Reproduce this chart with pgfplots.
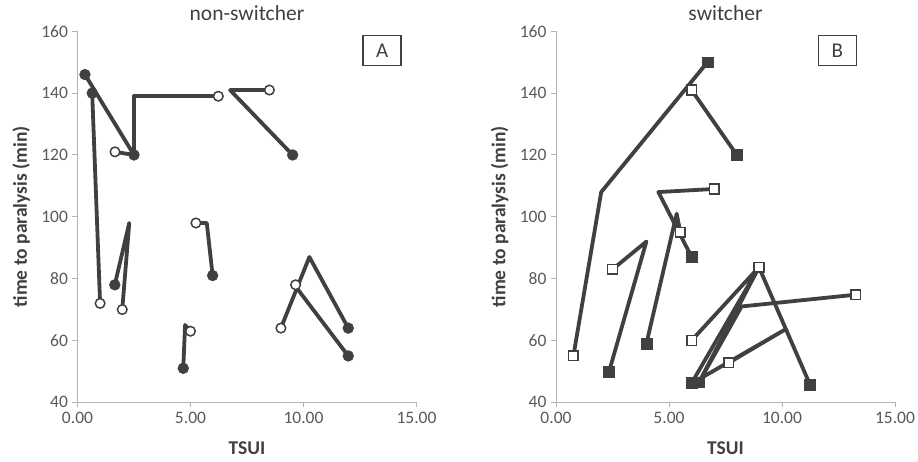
\documentclass[border=0pt]{standalone}
\usepackage{fontspec}
\setmainfont{Carlito}
\usepackage{pgfplots}
\usepackage{pgfplotstable}
\pgfplotsset{compat=1.18}
\definecolor{ln}{HTML}{404040}
\definecolor{ax}{HTML}{B4B4B4}
\definecolor{tk}{HTML}{595959}

% ---------- Panel A (non-switcher) ----------
\pgfplotstableread{
x y
0.33 146
2.50 120
1.66 121
}\Aa
\pgfplotstableread{
x y
2.50 120
2.50 139
6.23 139
}\Ab
\pgfplotstableread{
x y
0.65 140
1.00 72
}\Ac
\pgfplotstableread{
x y
1.65 78
2.29 98
1.98 70
}\Ad
\pgfplotstableread{
x y
5.98 81
5.72 98
5.24 98
}\Ae
\pgfplotstableread{
x y
4.68 51
4.76 65
5.00 63
}\Af
\pgfplotstableread{
x y
11.98 64
10.26 87
9.00 64
}\Ag
\pgfplotstableread{
x y
11.98 55
9.75 76.5
9.65 78
}\Ah
\pgfplotstableread{
x y
9.52 120
6.75 141
8.49 141
}\Ai
\pgfplotstableread{
x y
0.33 146
0.65 140
2.50 120
1.65 78
5.98 81
4.68 51
11.98 64
11.98 55
9.52 120
}\Afilled
\pgfplotstableread{
x y
1.66 121
6.23 139
1.00 72
1.98 70
5.24 98
5.00 63
9.00 64
9.65 78
8.49 141
}\Aopen

% ---------- Panel B (switcher) ----------
\pgfplotstableread{
x y
6.70 150
2.00 108
0.77 55
}\Ba
\pgfplotstableread{
x y
8.00 120
6.00 141
}\Bb
\pgfplotstableread{
x y
6.00 87
4.53 108
7.00 109
}\Bc
\pgfplotstableread{
x y
2.35 50
4.00 92
2.50 83
}\Bd
\pgfplotstableread{
x y
4.00 59
5.34 101
5.50 95
}\Be
\pgfplotstableread{
x y
6.00 46.2
8.98 83.7
6.00 60
}\Bf
\pgfplotstableread{
x y
6.33 46.5
8.98 83.7
11.24 45.7
}\Bg
\pgfplotstableread{
x y
6.33 46.5
8.21 71
13.26 74.8
}\Bh
\pgfplotstableread{
x y
6.10 46.5
10.13 63.5
7.65 52.8
}\Bi
\pgfplotstableread{
x y
6.70 150
8.00 120
6.00 87
2.35 50
4.00 59
6.00 46.2
6.33 46.5
11.24 45.7
}\Bfilled
\pgfplotstableread{
x y
6.00 141
7.00 109
5.50 95
2.50 83
0.77 55
6.00 60
8.98 83.7
7.65 52.8
13.26 74.8
}\Bopen

\pgfplotsset{
  panel/.style={
    scale only axis, width=339bp, height=371bp,
    xmin=0, xmax=15, ymin=40, ymax=160,
    axis x line*=bottom, axis y line*=left,
    axis line style={-, draw=ax, line width=1bp},
    xtick={0,5,10,15}, ytick={40,60,...,160},
    tick align=outside, major tick length=5bp,
    tick style={draw=ax, line width=1bp},
    xticklabel={\pgfmathprintnumber[fixed,fixed zerofill,precision=2,assume math mode=true]{\tick}},
    yticklabel={\pgfmathprintnumber[assume math mode=true]{\tick}},
    ticklabel style={font=\fontsize{17.5bp}{20bp}\selectfont, text=tk},
    xticklabel style={yshift=-1bp},
    yticklabel style={xshift=-1bp},
    xlabel={\textbf{TSUI}},
    ylabel={\textbf{time to paralysis (min)}},
    label style={font=\fontsize{19.5bp}{22bp}\selectfont, text=ln},
    xlabel style={at={(axis description cs:0.5,-0.124)}, anchor=center},
    ylabel style={at={(axis description cs:-0.166,0.5)}, anchor=center},
    title style={at={(axis description cs:0.5,1.032)}, anchor=center, font=\fontsize{21.5bp}{24bp}\selectfont, text=ln},
    clip=false,
  },
  seg/.style={draw=ln, line width=3.8bp, no marks, line join=round, line cap=round},
  fmark/.style={only marks, mark size=5.4bp, mark options={fill=ln, draw=ln, line width=0.5bp}},
  omark/.style={only marks, mark size=4.8bp, mark options={fill=white, draw=ln, line width=1.5bp}},
}
\tikzset{lbox/.style={draw=ln, line width=1.4bp, minimum width=38bp, minimum height=30bp, inner sep=0pt, font=\fontsize{21bp}{23bp}\selectfont, text=ln}}

\begin{document}
\begin{tikzpicture}
\useasboundingbox (0,0) rectangle (918bp,462bp);

\begin{axis}[panel, at={(77.5bp,59.7bp)}, anchor=south west, title={non-switcher}]
\addplot[seg] table[x=x,y=y] {\Aa};
\addplot[seg] table[x=x,y=y] {\Ab};
\addplot[seg] table[x=x,y=y] {\Ac};
\addplot[seg] table[x=x,y=y] {\Ad};
\addplot[seg] table[x=x,y=y] {\Ae};
\addplot[seg] table[x=x,y=y] {\Af};
\addplot[seg] table[x=x,y=y] {\Ag};
\addplot[seg] table[x=x,y=y] {\Ah};
\addplot[seg] table[x=x,y=y] {\Ai};
\addplot[fmark, mark=*] table[x=x,y=y] {\Afilled};
\addplot[omark, mark=*] table[x=x,y=y] {\Aopen};
\node[lbox] at (axis cs:13.48,153.8) {A};
\end{axis}

\begin{axis}[panel, at={(556bp,59.7bp)}, anchor=south west, title={switcher}]
\addplot[seg] table[x=x,y=y] {\Ba};
\addplot[seg] table[x=x,y=y] {\Bb};
\addplot[seg] table[x=x,y=y] {\Bc};
\addplot[seg] table[x=x,y=y] {\Bd};
\addplot[seg] table[x=x,y=y] {\Be};
\addplot[seg] table[x=x,y=y] {\Bf};
\addplot[seg] table[x=x,y=y] {\Bg};
\addplot[seg] table[x=x,y=y] {\Bh};
\addplot[seg] table[x=x,y=y] {\Bi};
\addplot[fmark, mark=square*] table[x=x,y=y] {\Bfilled};
\addplot[omark, mark=square*] table[x=x,y=y] {\Bopen};
\node[lbox] at (axis cs:12.45,153.8) {B};
\end{axis}
\end{tikzpicture}
\end{document}
